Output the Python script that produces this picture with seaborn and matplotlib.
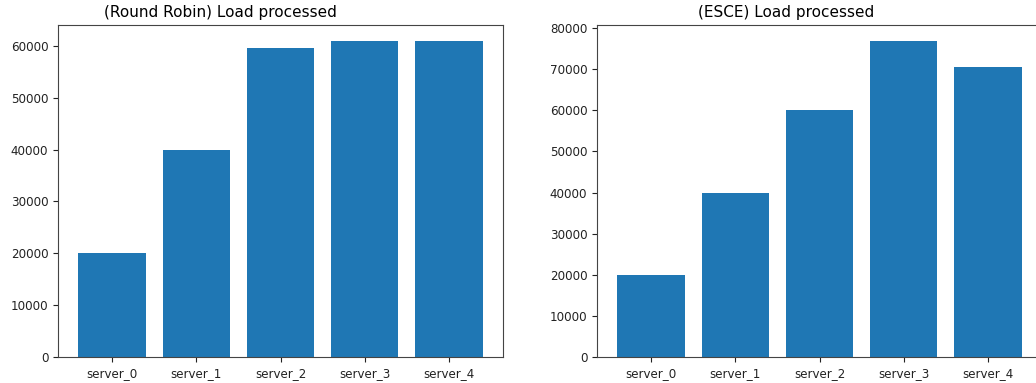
import matplotlib
matplotlib.use("Agg")
import matplotlib.pyplot as plt
import seaborn as sns
import pandas as pd

servers = ["server_0", "server_1", "server_2", "server_3", "server_4"]
round_robin_load = [20000, 40000, 59700, 61000, 61000]
esce_load = [20000, 40000, 60000, 76900, 70500]

titles = ["(Round Robin) Load processed", "(ESCE) Load processed"]
title_x = [0.366, 0.425]

fig = plt.figure(figsize=(10.36, 3.83), dpi=100)
ax1 = fig.add_axes([58 / 1036, 26 / 383, 445 / 1036, 332 / 383])
ax2 = fig.add_axes([597 / 1036, 26 / 383, 445 / 1036, 332 / 383])

for ax, load, title, tx in zip([ax1, ax2], [round_robin_load, esce_load], titles, title_x):
    df = pd.DataFrame({"server": servers, "load": load})
    sns.barplot(data=df, x="server", y="load", ax=ax, color="#1f77b4",
                saturation=1, width=0.8, linewidth=0)
    ax.set_xlim(-0.64, 4.64)
    ax.set_xlabel("")
    ax.set_ylabel("")
    ax.tick_params(labelsize=8.6, colors="#222222")
    for s in ax.spines.values():
        s.set_color("#444444")
    ax.set_title(title, fontsize=11, x=tx, pad=6)

fig.savefig("out.png", dpi=100)
